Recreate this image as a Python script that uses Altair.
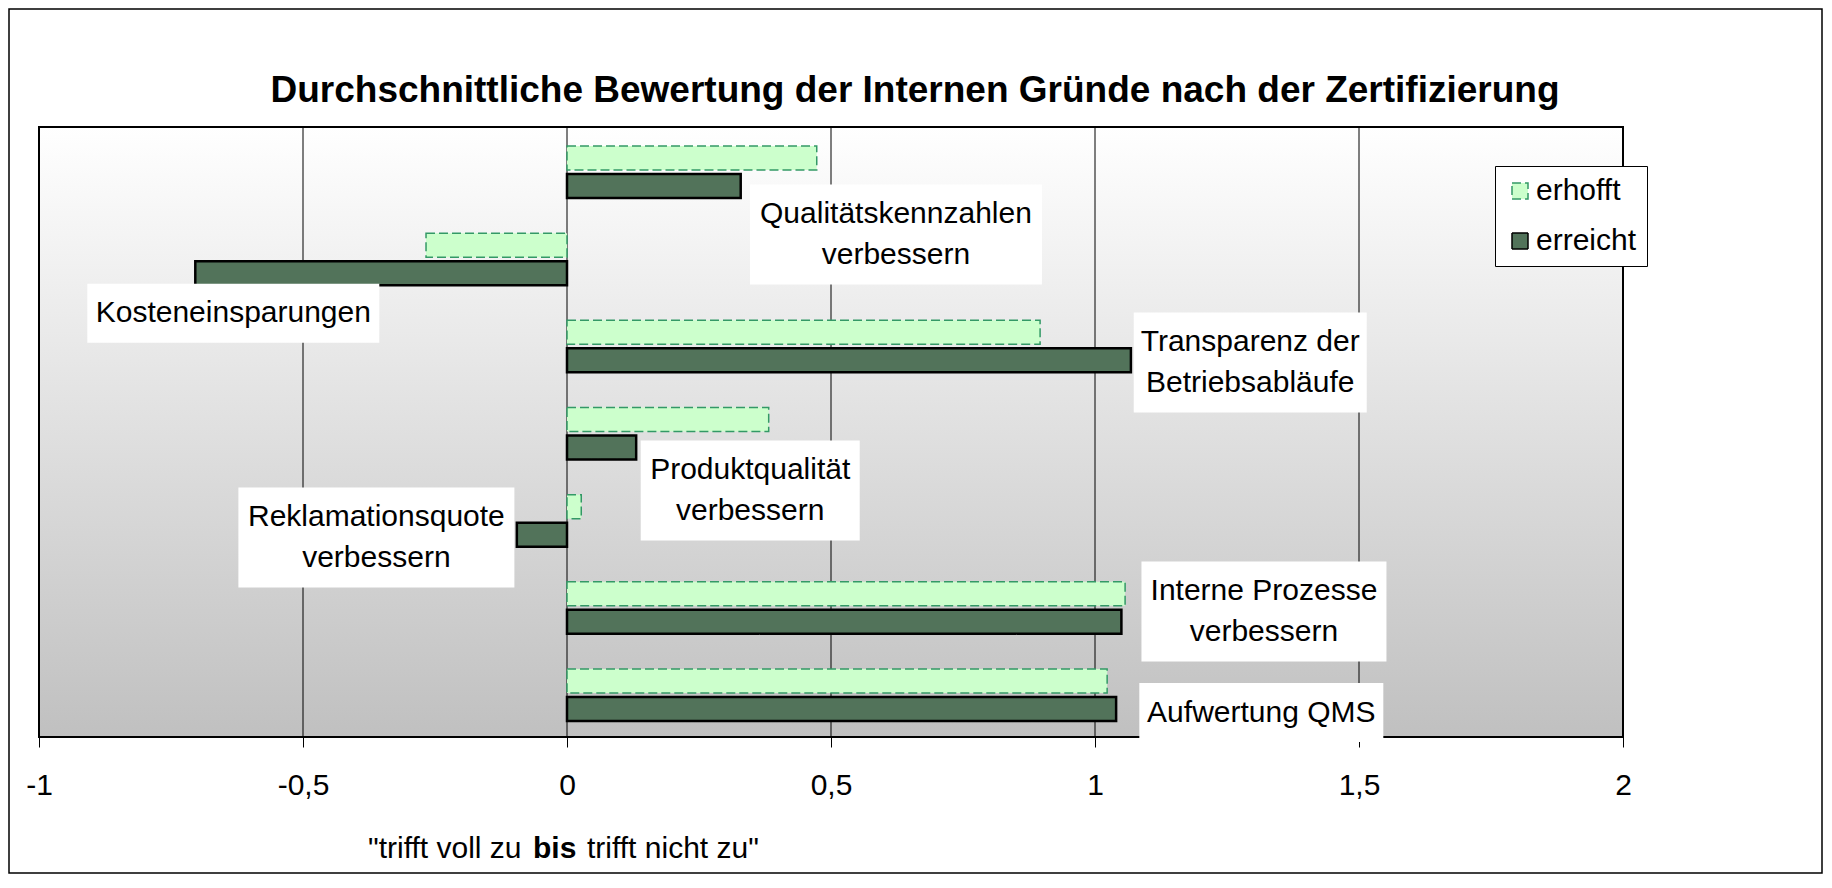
import altair as alt
import pandas as pd

# ---------------- data ----------------
categories = [
    "Qualitätskennzahlen verbessern",
    "Kosteneinsparungen",
    "Transparenz der Betriebsabläufe",
    "Produktqualität verbessern",
    "Reklamationsquote verbessern",
    "Interne Prozesse verbessern",
    "Aufwertung QMS",
]
label_texts = [
    "Qualitätskennzahlen\nverbessern",
    "Kosteneinsparungen",
    "Transparenz der\nBetriebsabläufe",
    "Produktqualität\nverbessern",
    "Reklamationsquote\nverbessern",
    "Interne Prozesse\nverbessern",
    "Aufwertung QMS",
]
series_names = ["erhofft", "erreicht"]
erhofft = [0.473, -0.267, 0.896, 0.382, 0.027, 1.057, 1.023]
erreicht = [0.329, -0.704, 1.068, 0.131, -0.095, 1.050, 1.040]
tick_values = [-1, -0.5, 0, 0.5, 1, 1.5, 2]

title_text = "Durchschnittliche Bewertung der Internen Gründe nach der Zertifizierung"
xtitle_parts = ['"trifft voll zu', "bis", 'trifft nicht zu"']

# ---------------- layout / style ----------------
W, H = 1584, 610
FONT = "Liberation Sans"
FS = 30
LH = 41
# label placement: centre x (axis units), vertical shift from band centre (px), box w, box h (px)
label_layout = [
    (0.623, 63.9, 292, 100),
    (-0.632, 55.5, 292, 59),
    (1.294, 17.6, 233, 100),
    (0.347, 58.5, 219, 100),
    (-0.361, 18.4, 276, 100),
    (1.320, 5.2, 245, 100),
    (1.315, 19.1, 244, 59),
]

fill_hoff = "#ccffcc"
fill_err = "#52735a"
stroke_hoff = "#339966"

bars = pd.DataFrame(
    [{"cat": c, "series": "erhofft", "value": v} for c, v in zip(categories, erhofft)]
    + [{"cat": c, "series": "erreicht", "value": v} for c, v in zip(categories, erreicht)]
)

xscale = alt.Scale(domain=[-1, 2], nice=False, zero=False)
yscale = alt.Scale(domain=categories, paddingInner=0, paddingOuter=0)
xaxis = alt.Axis(
    values=tick_values, title=None, grid=False, domain=False,
    ticks=True, tickSize=10, tickColor="black", tickWidth=1,
    labelFontSize=FS, labelFont=FONT, labelColor="black",
    labelFlush=False, labelOverlap=False, labelBaseline="middle",
    labelPadding=38,
    labelExpr="replace(toString(datum.value), '.', ',')",
)

one = pd.DataFrame({"a": [0]})

# background gradient of plot area
bg = alt.Chart(one).mark_rect(
    color=alt.LinearGradient(
        gradient="linear",
        stops=[alt.GradientStop(color="#ffffff", offset=0),
               alt.GradientStop(color="#c0c0c0", offset=1)],
        x1=0, x2=0, y1=0, y2=1,
    )
).encode(x=alt.value(0), x2=alt.value(W), y=alt.value(0), y2=alt.value(H))

# grid lines
grid = alt.Chart(pd.DataFrame({"v": tick_values})).mark_rule(
    color="black", strokeWidth=1
).encode(
    x=alt.X("v:Q", scale=xscale, axis=xaxis),
    y=alt.value(0), y2=alt.value(H),
)

plot_frame = alt.Chart(one).mark_rect(
    fillOpacity=0, stroke="black", strokeWidth=2
).encode(x=alt.value(0), x2=alt.value(W), y=alt.value(0), y2=alt.value(H))

outer_frame = alt.Chart(one).mark_rect(
    fillOpacity=0, stroke="black", strokeWidth=1.5
).encode(x=alt.value(-30), x2=alt.value(1783), y=alt.value(-118), y2=alt.value(746))

color_enc = alt.Color(
    "series:N",
    scale=alt.Scale(domain=series_names, range=[fill_hoff, fill_err]),
    title=None,
    legend=alt.Legend(
        orient="none", legendX=1456, legendY=39, title=None,
        fillColor="white", strokeColor="black", padding=10,
        labelFontSize=FS, labelFont=FONT, labelColor="black",
        symbolType="square", symbolSize=256, symbolStrokeWidth=1.5,
        rowPadding=20, labelOffset=1,
    ),
)
stroke_enc = alt.Stroke(
    "series:N", scale=alt.Scale(domain=series_names, range=[stroke_hoff, "#000000"]),
    title=None,
)
dash_enc = alt.StrokeDash(
    "series:N", scale=alt.Scale(domain=series_names, range=[[9, 4], [1, 0]]),
    title=None,
)


def bar_layer(name, offset, sw):
    return alt.Chart(bars).transform_filter(alt.datum.series == name).mark_bar(
        size=24, yOffset=offset, strokeWidth=sw
    ).encode(
        x=alt.X("value:Q", scale=xscale, axis=xaxis),
        x2=alt.datum(0),
        y=alt.Y("cat:N", sort=categories, scale=yscale, axis=None),
        color=color_enc,
        stroke=stroke_enc,
        strokeDash=dash_enc,
    )


bar_hoff = bar_layer("erhofft", -12.5, 1.5)
bar_err = bar_layer("erreicht", 15.5, 2.5)

# data labels with white boxes
labels_df = pd.DataFrame({
    "cat": categories,
    "text": label_texts,
    "lx": [l[0] for l in label_layout],
})
label_layers = []
for cat, text, (lx, dy, bw, bh) in zip(categories, label_texts, label_layout):
    n_lines = text.count("\n") + 1
    path = f"M{-bw/2},{-bh/2}H{bw/2}V{bh/2}H{-bw/2}Z"
    base = alt.Chart(labels_df).transform_filter(alt.datum.cat == cat)
    box = base.mark_point(
        shape=path, size=4, filled=True, color="white", opacity=1, strokeWidth=0,
        yOffset=dy,
    ).encode(
        x=alt.X("lx:Q", scale=xscale, axis=xaxis),
        y=alt.Y("cat:N", sort=categories, scale=yscale, axis=None),
    )
    txt = base.mark_text(
        font=FONT, fontSize=FS, color="black", align="center", baseline="middle",
        lineBreak="\n", lineHeight=LH, yOffset=dy - (n_lines - 1) * LH / 2,
    ).encode(
        x=alt.X("lx:Q", scale=xscale, axis=xaxis),
        y=alt.Y("cat:N", sort=categories, scale=yscale, axis=None),
        text="text:N",
    )
    label_layers += [box, txt]

# title and x-axis caption
title = alt.Chart(pd.DataFrame({"t": [title_text]})).mark_text(
    font=FONT, fontSize=37, fontWeight="bold", color="black",
    align="center", baseline="middle",
).encode(text="t:N", x=alt.value(876), y=alt.value(-36))

cap_df = pd.DataFrame({"t": xtitle_parts})
cap_left = alt.Chart(cap_df).transform_filter(alt.datum.t == xtitle_parts[0]).mark_text(
    font=FONT, fontSize=FS, color="black", align="right", baseline="middle",
).encode(text="t:N", x=alt.value(482.5), y=alt.value(721.5))
cap_mid = alt.Chart(cap_df).transform_filter(alt.datum.t == xtitle_parts[1]).mark_text(
    font=FONT, fontSize=FS, fontWeight="bold", color="black", align="center",
    baseline="middle",
).encode(text="t:N", x=alt.value(515.7), y=alt.value(721.5))
cap_right = alt.Chart(cap_df).transform_filter(alt.datum.t == xtitle_parts[2]).mark_text(
    font=FONT, fontSize=FS, color="black", align="left", baseline="middle",
).encode(text="t:N", x=alt.value(548), y=alt.value(721.5))

chart = alt.layer(
    bg, grid, plot_frame, bar_hoff, bar_err, *label_layers,
    title, cap_left, cap_mid, cap_right, outer_frame,
).properties(
    width=W, height=H,
    autosize=alt.AutoSizeParams(type="none"),
    padding={"left": 31, "top": 119, "right": 200, "bottom": 137},
    background="white",
).configure(font=FONT).configure_view(strokeWidth=0)

chart.save("out.html", embed_options={"renderer": "svg", "actions": False})
